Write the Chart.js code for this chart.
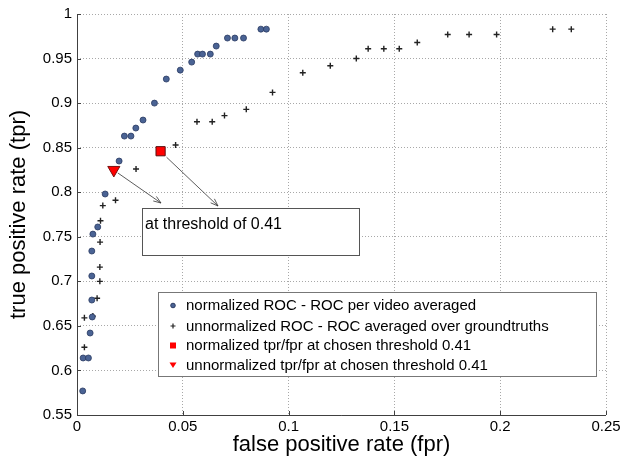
<!DOCTYPE html>
<html>
<head>
<meta charset="utf-8">
<script src="https://cdn.jsdelivr.net/npm/chart.js@4.4.0/dist/chart.umd.min.js"></script>
<style>
  html, body { margin: 0; padding: 0; background: #fff; }
</style>
</head>
<body>
<canvas id="graficoROC" width="633" height="459"></canvas>
<script>
// ROC normalizada (por video, promediada)
const normFpr = [0.0027, 0.0029, 0.0054, 0.0062, 0.0072, 0.0070, 0.0070, 0.0070, 0.0075, 0.0098,
                 0.0133, 0.0199, 0.0224, 0.0255, 0.0278, 0.0312, 0.0366, 0.0422, 0.0488, 0.0542,
                 0.0570, 0.0593, 0.0630, 0.0658, 0.0711, 0.0746, 0.0787, 0.0869, 0.0895];
const normTpr = [0.577, 0.614, 0.614, 0.642, 0.660, 0.679, 0.706, 0.734, 0.753, 0.761,
                 0.798, 0.835, 0.863, 0.863, 0.872, 0.881, 0.900, 0.927, 0.937, 0.946,
                 0.955, 0.955, 0.955, 0.964, 0.973, 0.973, 0.973, 0.983, 0.983];

// ROC no normalizada (promediada sobre groundtruths)
const unnormFpr = [0.0035, 0.0035, 0.0075, 0.0095, 0.0108, 0.0108, 0.0109, 0.0111, 0.0122, 0.0182,
                   0.0279, 0.0466, 0.0567, 0.0639, 0.0697, 0.0800, 0.0924, 0.1067, 0.1197, 0.1320,
                   0.1376, 0.1450, 0.1523, 0.1608, 0.1752, 0.1853, 0.1983, 0.2248, 0.2336];
const unnormTpr = [0.626, 0.659, 0.661, 0.681, 0.700, 0.716, 0.744, 0.768, 0.785, 0.791,
                   0.826, 0.853, 0.879, 0.879, 0.886, 0.893, 0.912, 0.934, 0.942, 0.950,
                   0.961, 0.961, 0.961, 0.968, 0.977, 0.977, 0.977, 0.983, 0.983];

// Puntos en el umbral elegido 0.41
const normChosen = [0.0395, 0.846];
const unnormChosen = [0.0174, 0.825];

const xTicks = [0, 0.05, 0.1, 0.15, 0.2, 0.25];
const yTicks = [0.55, 0.6, 0.65, 0.7, 0.75, 0.8, 0.85, 0.9, 0.95, 1];

const etiquetas = [
  'normalized ROC - ROC per video averaged',
  'unnormalized ROC - ROC averaged over groundtruths',
  'normalized tpr/fpr at chosen threshold 0.41',
  'unnormalized tpr/fpr at chosen threshold 0.41'
];
const textoAnotacion = 'at threshold of 0.41';

const FUENTE = '"Liberation Sans", Arial, Helvetica, sans-serif';

function aPuntos(xs, ys) {
  return xs.map((v, i) => ({ x: v, y: ys[i] }));
}

function flecha(ctx, x1, y1, x2, y2) {
  const ang = Math.atan2(y2 - y1, x2 - x1);
  ctx.beginPath();
  ctx.moveTo(x1, y1);
  ctx.lineTo(x2, y2);
  ctx.stroke();
  ctx.beginPath();
  ctx.moveTo(x2 - 8 * Math.cos(ang - 0.35), y2 - 8 * Math.sin(ang - 0.35));
  ctx.lineTo(x2, y2);
  ctx.lineTo(x2 - 8 * Math.cos(ang + 0.35), y2 - 8 * Math.sin(ang + 0.35));
  ctx.stroke();
}

// Leyenda, anotación, ejes sólidos y marcas interiores
const extras = {
  id: 'extras',
  afterDatasetsDraw(chart) {
    const { ctx, scales: { x, y }, chartArea: ca } = chart;
    ctx.save();
    ctx.setLineDash([]);

    // ejes izquierdo e inferior sólidos
    ctx.strokeStyle = '#404040';
    ctx.lineWidth = 1;
    ctx.beginPath();
    ctx.moveTo(Math.round(ca.left) + 0.5, ca.top);
    ctx.lineTo(Math.round(ca.left) + 0.5, Math.round(ca.bottom) + 0.5);
    ctx.lineTo(ca.right, Math.round(ca.bottom) + 0.5);
    ctx.stroke();

    // marcas de los ejes hacia dentro
    ctx.beginPath();
    yTicks.forEach(t => {
      const py = Math.round(y.getPixelForValue(t)) + 0.5;
      ctx.moveTo(ca.left, py); ctx.lineTo(ca.left + 4, py);
    });
    xTicks.forEach(t => {
      const px = Math.round(x.getPixelForValue(t)) + 0.5;
      ctx.moveTo(px, ca.bottom); ctx.lineTo(px, ca.bottom - 4);
    });
    ctx.stroke();

    // flechas de la anotación
    ctx.strokeStyle = '#333';
    ctx.lineWidth = 0.8;
    const tx = x.getPixelForValue(unnormChosen[0]), ty = y.getPixelForValue(unnormChosen[1]);
    const sx = x.getPixelForValue(normChosen[0]), sy = y.getPixelForValue(normChosen[1]);
    flecha(ctx, tx + 4, ty + 3, 161, 203);
    flecha(ctx, sx + 6, sy + 6, 218, 206);

    // caja de anotación
    ctx.fillStyle = '#fff';
    ctx.fillRect(142.5, 208.5, 217, 47);
    ctx.strokeStyle = '#555';
    ctx.lineWidth = 1;
    ctx.strokeRect(142.5, 208.5, 217, 47);
    ctx.fillStyle = '#000';
    ctx.font = '16px ' + FUENTE;
    ctx.textBaseline = 'middle';
    ctx.fillText(textoAnotacion, 145, 225);

    // leyenda
    ctx.fillStyle = '#fff';
    ctx.fillRect(158.5, 292.5, 438, 84);
    ctx.strokeStyle = '#777';
    ctx.strokeRect(158.5, 292.5, 438, 84);
    ctx.font = '15px ' + FUENTE;
    const filas = [305.5, 326, 345.5, 365];
    chart.data.datasets.forEach((ds, i) => {
      const my = filas[i];
      const mx = 173;
      ctx.lineWidth = 1;
      if (i === 0) {
        ctx.fillStyle = ds.backgroundColor; ctx.strokeStyle = ds.borderColor;
        ctx.beginPath(); ctx.arc(mx, my, 2.3, 0, Math.PI * 2); ctx.fill(); ctx.stroke();
      } else if (i === 1) {
        ctx.strokeStyle = '#222'; ctx.lineWidth = 1.2;
        ctx.beginPath(); ctx.moveTo(mx - 2.5, my); ctx.lineTo(mx + 2.5, my);
        ctx.moveTo(mx, my - 2.5); ctx.lineTo(mx, my + 2.5); ctx.stroke();
      } else if (i === 2) {
        ctx.fillStyle = ds.backgroundColor;
        ctx.fillRect(mx - 3, my - 3, 6, 6);
      } else {
        ctx.fillStyle = ds.backgroundColor;
        ctx.beginPath(); ctx.moveTo(mx - 3.5, my - 2.5); ctx.lineTo(mx + 3.5, my - 2.5);
        ctx.lineTo(mx, my + 3); ctx.closePath(); ctx.fill();
      }
      ctx.fillStyle = '#000';
      ctx.fillText(etiquetas[i], 186, my + 0.5);
    });
    ctx.restore();
  }
};

const ctxROC = document.getElementById('graficoROC').getContext('2d');

const rejilla = { color: '#a8a8a8', drawTicks: false, lineWidth: 1 };
const bordeRejilla = { display: false, dash: [1, 2] };

new Chart(ctxROC, {
  type: 'scatter',
  data: {
    datasets: [
      {
        label: etiquetas[0],
        data: aPuntos(normFpr, normTpr),
        pointStyle: 'circle',
        pointRadius: 3,
        backgroundColor: '#4a6394',
        borderColor: '#2b3b62',
        borderWidth: 0.8
      },
      {
        label: etiquetas[1],
        data: aPuntos(unnormFpr, unnormTpr),
        pointStyle: 'cross',
        pointRadius: 3,
        backgroundColor: '#222',
        borderColor: '#222',
        borderWidth: 1.4
      },
      {
        label: etiquetas[2],
        data: [{ x: normChosen[0], y: normChosen[1] }],
        pointStyle: 'rect',
        pointRadius: 6.5,
        backgroundColor: '#ff0000',
        borderColor: '#5a1010',
        borderWidth: 1
      },
      {
        label: etiquetas[3],
        data: [{ x: unnormChosen[0], y: unnormChosen[1] }],
        pointStyle: 'triangle',
        rotation: 180,
        pointRadius: 7,
        backgroundColor: '#ff0000',
        borderColor: '#7a1010',
        borderWidth: 1
      }
    ]
  },
  options: {
    responsive: false,
    animation: false,
    devicePixelRatio: 1,
    layout: { padding: { left: 0, right: 27, top: 14, bottom: 0 } },
    plugins: {
      legend: { display: false },
      tooltip: { enabled: false }
    },
    scales: {
      x: {
        type: 'linear',
        min: 0,
        max: 0.25,
        afterFit: (s) => { s.height = 44; },
        afterBuildTicks: (s) => { s.ticks = xTicks.map(v => ({ value: v })); },
        ticks: {
          padding: 3,
          color: '#000',
          font: { family: FUENTE, size: 15 },
          maxRotation: 0,
          callback: (v) => String(Number(v.toFixed(2)))
        },
        grid: rejilla,
        border: bordeRejilla,
        title: {
          display: true,
          text: 'false positive rate (fpr)',
          color: '#000',
          font: { family: FUENTE, size: 22 },
          padding: { top: 0, bottom: 1 }
        }
      },
      y: {
        type: 'linear',
        min: 0.55,
        max: 1,
        afterFit: (s) => { s.width = 77; },
        afterBuildTicks: (s) => { s.ticks = yTicks.map(v => ({ value: v })); },
        ticks: {
          padding: 5,
          color: '#000',
          font: { family: FUENTE, size: 15 },
          callback: (v) => String(Number(v.toFixed(2)))
        },
        grid: rejilla,
        border: bordeRejilla,
        title: {
          display: true,
          text: 'true positive rate (tpr)',
          color: '#000',
          font: { family: FUENTE, size: 22 },
          padding: { top: 6, bottom: 0 }
        }
      }
    }
  },
  plugins: [extras]
});
</script>
</body>
</html>
